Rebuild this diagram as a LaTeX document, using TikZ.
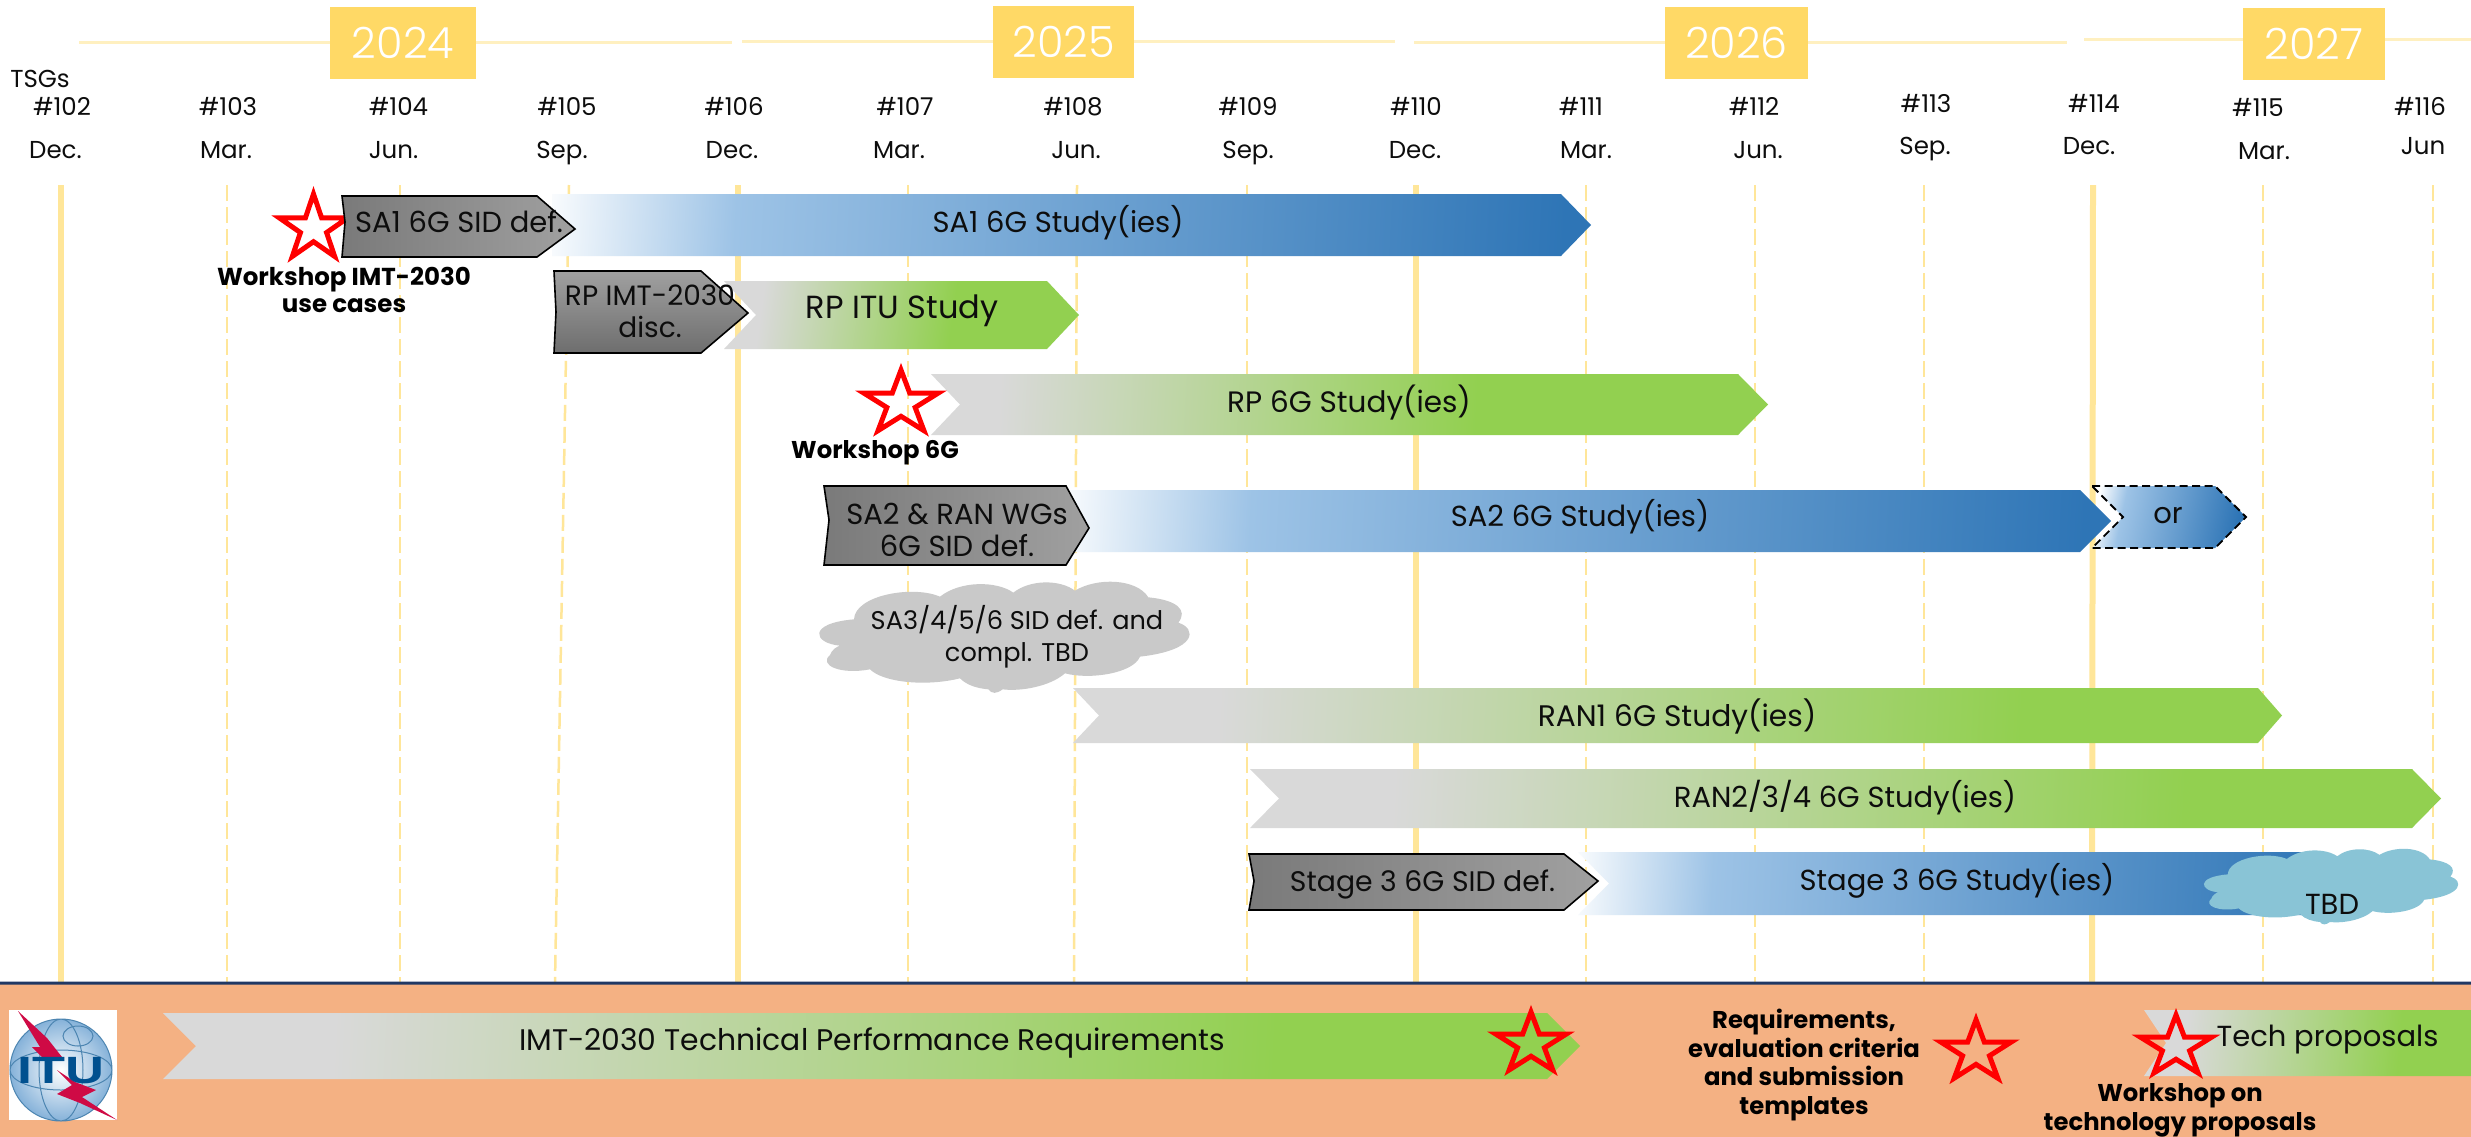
\documentclass[tikz,border=0pt]{standalone}
\usepackage{fontspec}
\usepackage{graphicx}
\setmainfont{Poppins}
\newfontfamily\lightfont{Poppins Light}
\newfontfamily\arialb{Liberation Sans Bold}
\definecolor{yrc}{HTML}{FFD966}
\definecolor{yrl}{HTML}{FFF0C0}
\definecolor{grid}{HTML}{FFE699}
\definecolor{peach}{HTML}{F4B183}
\definecolor{cloudg}{HTML}{C9C9C9}
\definecolor{cloudb}{HTML}{89C4D6}
\definecolor{navy}{HTML}{1F3864}
\definecolor{bA}{HTML}{9DC3E6}
\definecolor{bB}{HTML}{2E75B6}
\definecolor{gA}{HTML}{D9D9D9}
\definecolor{gB}{HTML}{92D050}
\definecolor{dA}{HTML}{7A7A7A}
\definecolor{dB}{HTML}{A0A0A0}
\definecolor{itub}{HTML}{00508F}
\definecolor{itur}{HTML}{CF0A45}
\pgfdeclarehorizontalshading{bluegrad}{100bp}{color(0bp)=(white);color(23bp)=(white);color(33bp)=(bA);color(75bp)=(bB);color(100bp)=(bB)}
\pgfdeclarehorizontalshading{greengrad}{100bp}{color(0bp)=(gA);color(30bp)=(gA);color(65bp)=(gB);color(100bp)=(gB)}
\pgfdeclarehorizontalshading{greenfast}{100bp}{color(0bp)=(gA);color(28bp)=(gA);color(58bp)=(gB);color(100bp)=(gB)}
\pgfdeclarehorizontalshading{sidgrad}{100bp}{color(0bp)=(dA);color(25bp)=(dA);color(75bp)=(dB);color(100bp)=(dB)}
\tikzset{
 x=1pt,y=-1pt,
 lbl/.style={font=\fontsize{#1}{32}\selectfont,align=center,inner sep=0pt,text=black!95,anchor=base},
 lbl/.default=29,
 hdr/.style={font=\fontsize{24.5}{30}\selectfont,inner sep=0pt,text=black!95,anchor=base},
 bld/.style={font=\fontsize{24.3}{28.5}\selectfont\bfseries,align=center,inner sep=0pt,anchor=base},
 bldtight/.style={bld,font=\fontsize{24.5}{27}\selectfont\bfseries},
 yearbox/.style={fill=yrc,inner sep=0pt,text=white,font=\lightfont\fontsize{43}{50}\selectfont},
 yearline/.style={draw=yrl,line width=3pt},
 major/.style={draw=grid,line width=6pt},
 minor/.style={draw=grid,line width=2.5pt,dash pattern=on 16pt off 6pt},
 bluebar/.style={shading=bluegrad,shading angle=#1},
 greenbar/.style={shading=greengrad,shading angle=#1},
 greenfastbar/.style={shading=greenfast,shading angle=#1},
 sidbox/.style={shading=sidgrad,draw=black,line width=1.6pt},
 sidvert/.style={top color=dB,bottom color=dA!90!black,draw=black,line width=1.6pt},
 wstar/.style={draw=red,line width=5pt,miter limit=10},
}
% left x, notch tip x, head start x, tip x, top y, bottom y
\newcommand{\chevron}[6]{(#1,#5) -- (#3,#5) -- (#4,{(#5+#6)/2}) -- (#3,#6) -- (#1,#6) -- (#2,{(#5+#6)/2}) -- cycle}
\newcommand{\redstar}[4]{\draw[wstar,x=#3pt,y=-#4pt,shift={(#1pt,-#2pt)}] (0,-1)--(-.2245,-.309)--(-.951,-.309)--(-.363,.118)--(-.588,.809)--(0,.382)--(.588,.809)--(.363,.118)--(.951,-.309)--(.2245,-.309)--cycle;}
\newcommand{\cloudoutline}{(222,478) .. controls (225,405) and (400,375) .. (480,410)
 .. controls (540,362) and (650,362) .. (700,398)
 .. controls (750,358) and (840,358) .. (885,392)
 .. controls (950,352) and (1070,355) .. (1105,412)
 .. controls (1190,420) and (1225,450) .. (1195,488)
 .. controls (1250,505) and (1255,570) .. (1080,590)
 .. controls (1060,640) and (930,660) .. (855,640)
 .. controls (810,680) and (720,695) .. (668,688)
 .. controls (650,702) and (635,702) .. (625,688)
 .. controls (590,685) and (560,675) .. (540,655)
 .. controls (440,680) and (310,668) .. (270,628)
 .. controls (180,645) and (115,615) .. (150,585)
 .. controls (155,570) and (170,560) .. (180,557)
 .. controls (100,550) and (80,490) .. (222,478) -- cycle}
\begin{document}
\begin{tikzpicture}
\useasboundingbox (0,0) rectangle (2471,1136);
\fill[white] (0,0) rectangle (2471,1136);
% year lines
\coordinate (yl1a) at (79,42); \coordinate (yl1b) at (732,42);
\coordinate (yl2a) at (742,41); \coordinate (yl2b) at (1395,41);
\coordinate (yl3a) at (1414,42); \coordinate (yl3b) at (2067,42);
\coordinate (yl4a) at (2084,39); \coordinate (yl4b) at (2471,39);
\draw[yearline] (yl1a)--(yl1b); \draw[yearline] (yl2a)--(yl2b); \draw[yearline] (yl3a)--(yl3b); \draw[yearline] (yl4a)--(yl4b);
\node[yearbox,minimum width=146pt,minimum height=72pt] (y24) at (403,43) {2024};
\node[yearbox,minimum width=141pt,minimum height=72pt] (y25) at (1063.5,42) {2025};
\node[yearbox,minimum width=143pt,minimum height=72pt] (y26) at (1736.5,43) {2026};
\node[yearbox,minimum width=142pt,minimum height=72pt] (y27) at (2314,44) {2027};
% grid
\foreach \n/\xa/\xb/\s in {g0/61/61/major,g3/227/227/minor,g4/400/400/minor,g5/569/555/minor,g6/738/738/major,g7/908/908/minor,g8/1077/1074/minor,g9/1247/1247/minor,g10/1416/1416/major,g11/1586/1586/minor,g12/1755/1755/minor,g13/1924/1924/minor,g14/2093/2092/major,g15/2263/2263/minor,g16/2433/2433/minor}{
 \coordinate (\n a) at (\xa,185); \coordinate (\n b) at (\xb,982);
 \draw[\s] (\n a)--(\n b);
}
% headers
\node[hdr] (tsgs) at (40,87) {TSGs};
\foreach \n/\x/\y/\t in {m102/62/115/\#102,m103/228/115/\#103,m104/398.5/115/\#104,m105/567/115/\#105,m106/734/115/\#106,m107/905/115/\#107,m108/1073/115/\#108,m109/1248/115/\#109,m110/1416/115/\#110,m111/1581/115/\#111,m112/1754/115/\#112,m113/1926/112/\#113,m114/2094/112/\#114,m115/2258/116/\#115,m116/2420/115/\#116}
 \node[hdr] (\n) at (\x,\y) {\t};
\foreach \n/\x/\y/\t in {d102/55.5/158/Dec.,d103/226/158/Mar.,d104/393.5/158/Jun.,d105/562/158/Sep.,d106/732/158/Dec.,d107/899/158/Mar.,d108/1076/158/Jun.,d109/1248/158/Sep.,d110/1415/158/Dec.,d111/1586/158/Mar.,d112/1758/158/Jun.,d113/1925/154/Sep.,d114/2089/154/Dec.,d115/2264/159/Mar.,d116/2423/154/Jun}
 \node[hdr] (\n) at (\x,\y) {\t};
% workshop star (under the SID box)
\redstar{313.5}{228.5}{36}{34.5}
% bars
\path[bluebar=-3] \chevron{552}{552}{1561}{1591}{194}{256};
\path[greenfastbar=-8] \chevron{724}{756}{1047}{1079}{281}{349};
\path[greenfastbar=-3] \chevron{931}{960}{1738}{1768}{374}{435};
\path[bluebar=-3] \chevron{1066}{1066}{2080}{2111}{490}{552};
\path[bluebar=-12,draw=black,line width=1.8pt,dash pattern=on 8pt off 4.5pt] \chevron{2092}{2123}{2215}{2246}{486}{548};
\path[greenbar=-3] \chevron{1073}{1099}{2258}{2282}{688}{743};
\path[greenbar=-3] \chevron{1250}{1279}{2412}{2441}{769}{828};
\path[bluebar=-3] \chevron{1578}{1609}{2307}{2340}{852}{915};
% SID boxes
\path[sidbox] (342,196)--(537,196)--(575,229)--(537,257)--(342,257)--(345,222)--cycle;
\path[sidvert] (554,271)--(701,271)--(748,313)--(701,353)--(554,353)--(556,312)--cycle;
\path[sidbox] (824,486)--(1066,486)--(1089,528)--(1066,565)--(824,565)--(829,520)--cycle;
\path[sidbox] (1249,854)--(1564,854)--(1598,881)--(1564,910)--(1249,910)--(1254,881)--cycle;
% clouds
\fill[cloudg,shift={(780pt,-460pt)},x=.3333pt,y=-.3333pt] \cloudoutline;
\fill[cloudb,shift={(2177pt,-766pt)},x=.2288pt,y=-.2267pt] \cloudoutline;
% bar texts
\node[lbl] (sa1s) at (1058,232) {SA1 6G Study(ies)};
\node[lbl=32] (rpitu) at (902,318) {RP ITU Study};
\node[lbl=29.5] (rp6g) at (1349,412) {RP 6G Study(ies)};
\node[lbl] (sa2s) at (1580,526) {SA2 6G Study(ies)};
\node[lbl] (orn) at (2168,523) {or};
\node[lbl=29.7] (ran1) at (1677,726) {RAN1 6G Study(ies)};
\node[lbl] (ran2) at (1845,807) {RAN2/3/4 6G Study(ies)};
\node[lbl] (st3s) at (1957,890) {Stage 3 6G Study(ies)};
\node[lbl] (sa1d) at (459,232) {SA1 6G SID def.};
\node[lbl=28] (rpd) at (650,337) {RP IMT-2030\\disc.};
\node[lbl] (sa2d) at (957,556) {SA2 \& RAN WGs\\6G SID def.};
\node[lbl=28.3] (st3d) at (1422.5,891) {Stage 3 6G SID def.};
\node[lbl=25.6] (c1t) at (1017,661) {SA3/4/5/6 SID def. and\\compl. TBD};
\node[lbl] (c2t) at (2332,914) {TBD};
\redstar{901}{403.5}{39}{33.5}
\node[bldtight] (ws1) at (344,312) {Workshop IMT-2030\\use cases};
\node[bld] (ws2) at (875,458) {Workshop 6G};
% bottom band
\path[fill=peach,draw=navy,line width=3pt,rounded corners=3pt] (-3,983) -- (-3,1145) -- (2480,1145) -- (2480,983) -- cycle;
\node[fill=white,minimum width=108pt,minimum height=110pt,inner sep=0pt] (logo) at (63,1065) {};
\shade[inner color=white,outer color=bA!85!itub] (61,1070) circle (51);
\draw[itub!70,line width=1pt] (61,1070) circle (51) (61,1070) ellipse (22 and 51) (61,1070) ellipse (51 and 20) (78,1036) ellipse (15 and 10);
\fill[itur] (18,1011)--(40,1047)--(32,1047)--(42,1057)--(62,1057)--(47,1038)--cycle;
\fill[itur] (57,1070)--(72,1085)--(57,1094)--(80,1103)--(117,1120)--(82,1097)--(96,1090)--(75,1082)--cycle;
\node[text=itub,inner sep=0pt,font=\arialb\fontsize{38}{40}\selectfont] (itu) at (61,1071) {\scalebox{1.42}[1]{ITU}};
\path[greenbar=-3] \chevron{163}{196}{1547}{1580}{1013}{1079};
\node[lbl=29.8] (imt) at (872,1050) {IMT-2030 Technical Performance Requirements};
\redstar{1531}{1044}{37}{32}
\node[bld] (req) at (1804,1114) {Requirements,\\evaluation criteria\\and submission\\templates};
\redstar{1976}{1052}{37}{32.3}
\path[greenbar=-5] \chevron{2144}{2166}{2471}{2471}{1010}{1076};
\redstar{2176}{1047}{37.5}{32}
\node[lbl] (tech) at (2327.5,1046) {Tech proposals};
\node[bld] (ws3) at (2180,1130) {Workshop on\\technology proposals};
\end{tikzpicture}
\end{document}
